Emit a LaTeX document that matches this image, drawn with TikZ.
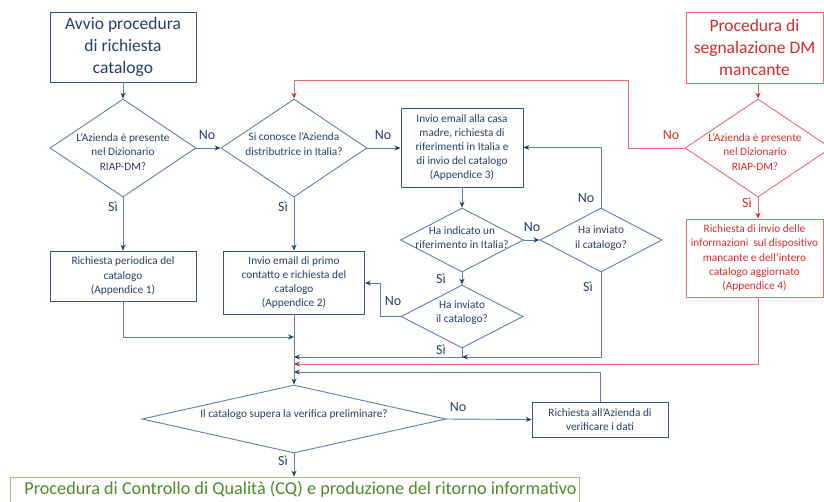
\documentclass[tikz,border=0pt]{standalone}
\usepackage{fontspec}
\setmainfont{Carlito}
\usetikzlibrary{shapes.geometric,arrows.meta}
\definecolor{ink}{HTML}{263F66}
\definecolor{navy}{HTML}{3A5482}
\definecolor{slate}{HTML}{5E7FAC}
\definecolor{redtext}{HTML}{D52B2B}
\definecolor{redline}{HTML}{E26E6E}
\definecolor{greentext}{HTML}{4E8A2A}
\definecolor{greenline}{HTML}{9FC084}
\newcommand\flowsmall{\fontsize{11.3}{14.2}\selectfont}
\newcommand\flowbig{\fontsize{17.5}{21.7}\selectfont}
\newcommand\flowlab{\fontsize{14}{16}\selectfont}
\newcommand\flowfinal{\fontsize{18.2}{21.7}\selectfont}
\begin{document}
\begin{tikzpicture}[x=1pt,y=-1pt,
    blubox/.style={draw=navy,line width=0.9pt,inner sep=0pt,align=center,text=ink,font=\flowsmall},
    bigbox/.style={blubox,font=\flowbig},
    redbox/.style={blubox,draw=redline,text=redtext},
    dia/.style={diamond,draw=slate,line width=0.9pt,inner sep=0pt},
    reddia/.style={dia,draw=redline},
    qtext/.style={align=center,text=ink,font=\flowsmall,inner sep=0pt},
    lab/.style={text=ink,font=\flowlab,inner sep=0pt},
    arr/.style={draw=slate,line width=0.9pt,-{Stealth[length=6pt,width=5pt,inset=2pt,color=ink]}},
    redarr/.style={draw=redline,line width=0.9pt,-{Stealth[length=6pt,width=5pt,inset=2pt,color=redtext]}}]
    \clip (0,0) rectangle (824,501);
    % left column
    \node[bigbox,minimum width=146pt,minimum height=70pt] (Start) at (123,47) {Avvio procedura\\di richiesta\\catalogo};
    \node[dia,minimum width=146pt,minimum height=98pt] (D1) at (123,148) {};
    \node[qtext] (D1t) at ([yshift=-4pt]D1.center) {L’Azienda è presente\\nel Dizionario\\RIAP-DM?};
    \node[blubox,minimum width=146pt,minimum height=50pt] (B1) at (123,276) {Richiesta periodica del\\catalogo\\(Appendice 1)};
    % second column
    \node[dia,minimum width=146pt,minimum height=98pt] (D2) at (294,148) {};
    \node[qtext] (D2t) at ([yshift=4pt]D2.center) {Si conosce l’Azienda\\distributrice in Italia?};
    \node[blubox,minimum width=141pt,minimum height=63pt] (B2) at (294,282.5) {Invio email di primo\\contatto e richiesta del\\catalogo\\(Appendice 2)};
    % casa madre
    \node[blubox,minimum width=122pt,minimum height=79pt] (B3) at (462,147.5) {Invio email alla casa\\madre, richiesta di\\riferimenti in Italia e\\di invio del catalogo\\(Appendice 3)};
    \node[dia,minimum width=123pt,minimum height=64pt] (D3) at (462,240) {};
    \node[qtext] (D3t) at ([yshift=2pt]D3.center) {Ha indicato un\\riferimento in Italia?};
    \node[dia,minimum width=122pt,minimum height=64pt] (D4) at (601,240) {};
    \node[qtext] (D4t) at ([yshift=2pt]D4.center) {Ha inviato\\il catalogo?};
    \node[dia,minimum width=122pt,minimum height=63pt] (D5) at (462,316.5) {};
    \node[qtext] (D5t) at ([yshift=4pt]D5.center) {Ha inviato\\il catalogo?};
    % verifica
    \node[dia,minimum width=304pt,minimum height=68pt] (D6) at (294,419) {};
    \node[qtext] (D6t) at ([yshift=4pt]D6.center) {Il catalogo supera la verifica preliminare?};
    \node[blubox,minimum width=136pt,minimum height=35pt] (B4) at (600,419.5) {Richiesta all’Azienda di\\verificare i dati};
    \node[draw=greenline,line width=0.9pt,inner sep=0pt,minimum width=569pt,minimum height=34pt] (Final) at (294.5,494) {};
    \node[text=greentext,font=\flowfinal,inner sep=0pt] (Finalt) at (300.5,489.5) {Procedura di Controllo di Qualità (CQ) e produzione del ritorno informativo};
    % red branch
    \node[redbox,font=\flowbig,minimum width=137pt,minimum height=71pt] (RStart) at (754.5,47.5) {Procedura di\\segnalazione DM\\mancante};
    \node[reddia,minimum width=146pt,minimum height=98pt] (RD) at (758,148) {};
    \node[qtext,text=redtext] (RDt) at ([yshift=-4pt,xshift=-3pt]RD.center) {L’Azienda è presente\\nel Dizionario\\RIAP-DM?};
    \node[redbox,minimum width=137pt,minimum height=78pt] (R4) at (754.5,258) {Richiesta di invio delle\\informazioni\ \ sul dispositivo\\mancante e dell’intero\\catalogo aggiornato\\(Appendice 4)};

    \coordinate (RedTop) at (628,80);
    \coordinate (JB1)    at (294,337);
    \coordinate (JNo)    at (380,283);
    \coordinate (JSi)    at (462,357);
    \coordinate (JRed)   at (294,364);
    \coordinate (JVer)   at (294,372);

    \draw[arr] (Start.south) -- (D1.north);
    \draw[arr] (D1.east) -- (D2.west);% No
    \draw[arr] (D1.south) -- (B1.north);% Si
    \draw[arr] (D2.east) -- (D2.east -| B3.west);% No
    \draw[arr] (D2.south) -- (B2.north);% Si
    \draw[arr] (B3.south) -- (D3.north);
    \draw[arr] (D3.east) -- (D4.west);
    \draw[arr] (D4.north) |- (B3.east);
    \draw[arr] (D3.south) -- (D5.north);
    \draw[arr] (D5.west) -| (JNo) -- (B2.east |- JNo);
    \draw[arr] (D4.south) |- (JSi);
    \draw[arr] (D5.south) -- (JSi) -- (JSi -| B2.south);
    \draw[arr] (B1.south) |- (JB1);
    \draw[arr] (B2.south) -- (D6.north);
    \draw[arr] (B4.north) |- (JVer);
    \draw[arr] (D6.east) -- (B4.west);% No
    \draw[arr] (D6.south) -- (D6.south |- Final.north);% Si
    \draw[redarr] (RD.north |- RStart.south) -- (RD.north);
    \draw[redarr] (RD.west) -| (RedTop) -| (D2.north);
    \draw[redarr] (RD.south) -- (RD.south |- R4.north);
    \draw[redarr] (RD.south |- R4.south) |- (JRed);

    \node[lab] (No1) at (207,135) {No};
    \node[lab] (Si1) at (113,207) {Sì};
    \node[lab] (No2) at (383,135) {No};
    \node[lab] (Si2) at (283,207) {Sì};
    \node[lab] (No3) at (532,227) {No};
    \node[lab] (No4) at (586,198) {No};
    \node[lab] (Si3) at (441,279) {Sì};
    \node[lab] (Si4) at (588,287) {Sì};
    \node[lab] (No5) at (393,301) {No};
    \node[lab] (Si5) at (441,350) {Sì};
    \node[lab] (No6) at (458,407) {No};
    \node[lab] (Si6) at (283,461) {Sì};
    \node[lab,text=redtext] (RNo) at (671,135) {No};
    \node[lab,text=redtext] (RSi) at (747,203) {Sì};
\end{tikzpicture}
\end{document}
